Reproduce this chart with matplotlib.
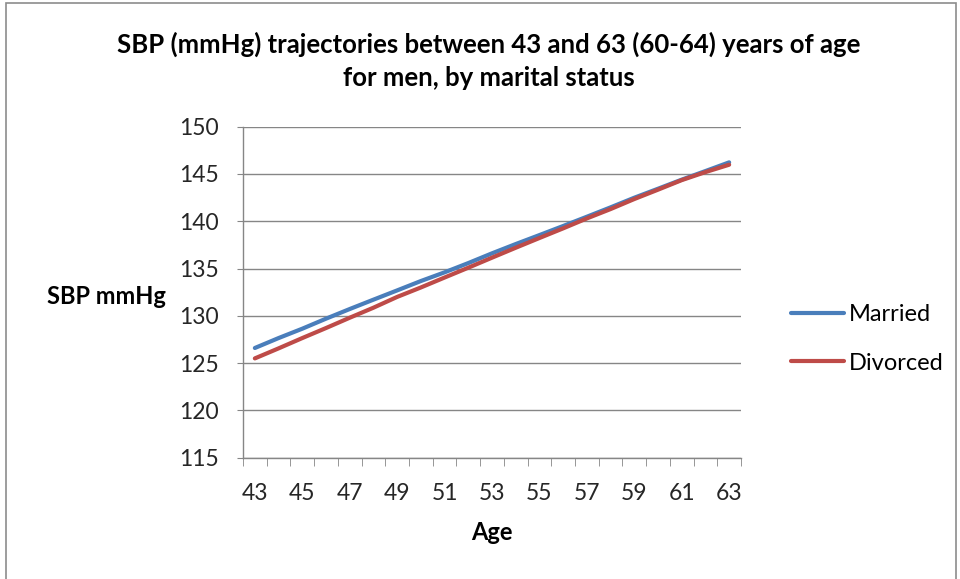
import numpy as np
import matplotlib.pyplot as plt
import matplotlib.patches as patches

ages = list(range(43, 64))
married = [126.6, 127.65, 128.64, 129.7, 130.72, 131.71, 132.69, 133.68, 134.6, 135.58, 136.61,
           137.59, 138.54, 139.5, 140.48, 141.47, 142.49, 143.44, 144.4, 145.31, 146.23]
divorced = [125.5, 126.56, 127.65, 128.71, 129.8, 130.86, 132.0, 133.0, 134.05, 135.09, 136.15,
            137.2, 138.23, 139.25, 140.3, 141.29, 142.35, 143.34, 144.35, 145.2, 145.98]
series_names = ['Married', 'Divorced']
yticks = [115, 120, 125, 130, 135, 140, 145, 150]

font = 'Lato'
grey = '#868686'

fig = plt.figure(figsize=(9.6, 5.79), dpi=100)
# outer chart border
fig.patches.append(patches.Rectangle((6 / 960, -0.01), 950 / 960, 1 - 3 / 579 + 0.01,
                                     transform=fig.transFigure, fill=False,
                                     edgecolor='#8c8c8c', linewidth=1.2))

ax = fig.add_axes([243 / 960, 1 - 457.7 / 579, (741 - 243) / 960, (457.7 - 126.7) / 579])
ax.plot(ages, married, color='#4A7EBB', linewidth=3, label=series_names[0], solid_capstyle='round')
ax.plot(ages, divorced, color='#BE4B48', linewidth=3, label=series_names[1], solid_capstyle='round')

ax.set_xlim(42.5, 63.5)
ax.set_ylim(115, 150)
ax.set_yticks(yticks)
ax.set_xticks(ages[::2])
ax.set_xticks(np.arange(42.5, 64, 1), minor=True)
ax.tick_params(axis='x', which='major', length=0, pad=18.5)
ax.tick_params(axis='x', which='minor', length=6, color=grey, direction='out')
ax.tick_params(axis='y', length=4.5, color=grey, pad=13)
for lab in ax.get_xticklabels() + ax.get_yticklabels():
    lab.set_fontfamily(font)
    lab.set_fontsize(16.5)
    lab.set_color('#262626')

ax.grid(axis='y', color=grey, linewidth=1)
ax.set_axisbelow(True)
for s in ['top', 'right']:
    ax.spines[s].set_visible(False)
for s in ['left', 'bottom']:
    ax.spines[s].set_color(grey)
    ax.spines[s].set_linewidth(1)

fig.text(492 / 960, 1 - 532 / 579, 'Age', fontfamily=font, fontweight='bold',
         fontsize=17, ha='center', va='center')
fig.text(47 / 960, 1 - 297 / 579, 'SBP mmHg', fontfamily=font, fontweight='bold',
         fontsize=17, ha='left', va='center')

fig.text(489 / 960, 1 - 61 / 579,
         'SBP (mmHg) trajectories between 43 and 63 (60-64) years of age\nfor men, by marital status',
         fontfamily=font, fontweight='bold', fontsize=18.5, ha='center', va='center',
         linespacing=1.45)

fig.legend(loc='center left', bbox_to_anchor=(770 / 960, 1 - 339 / 579), frameon=False,
           prop={'family': font, 'size': 17}, handlelength=2.25, handletextpad=0.17,
           labelspacing=1.15)

fig.savefig('out.png', dpi=100)
